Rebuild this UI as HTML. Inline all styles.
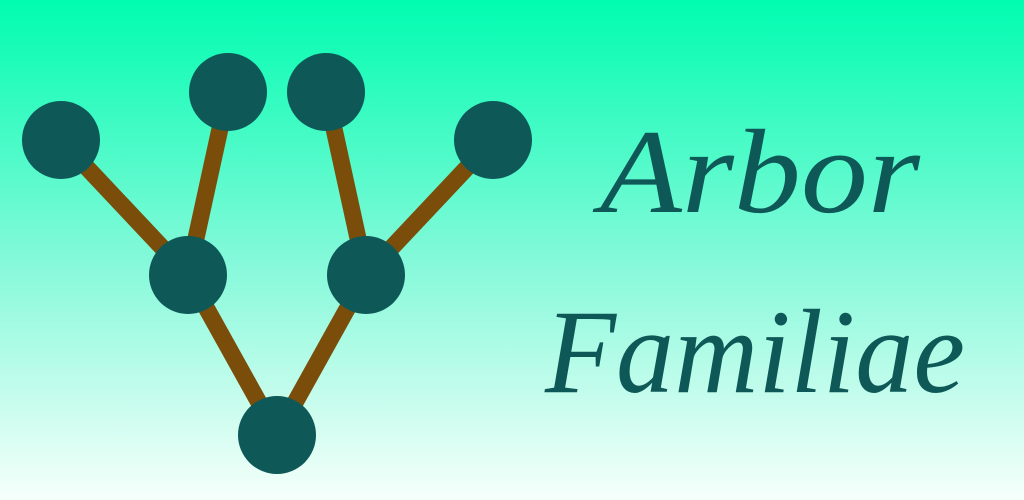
<!DOCTYPE html>
<html><head><meta charset="utf-8"><style>
html,body{margin:0;padding:0;width:1024px;height:500px;overflow:hidden}
svg{display:block}
</style></head><body>
<svg width="1024" height="500" viewBox="0 0 1024 500">
<defs>
<linearGradient id="bg" x1="0" y1="0" x2="0" y2="1">
<stop offset="0" stop-color="#00fdb0"/>
<stop offset="0.5" stop-color="#7ff9d8"/>
<stop offset="1" stop-color="#f6fffb"/>
</linearGradient>
</defs>
<rect width="1024" height="500" fill="url(#bg)"/>
<g stroke="#7a4e0a" stroke-width="17">
<line x1="61" y1="140" x2="188" y2="275"/>
<line x1="228" y1="92" x2="188" y2="275"/>
<line x1="326" y1="92" x2="366" y2="275"/>
<line x1="493" y1="140" x2="366" y2="275"/>
<line x1="188" y1="275" x2="277" y2="435"/>
<line x1="366" y1="275" x2="277" y2="435"/>
</g>
<g fill="#0e5858">
<circle cx="61" cy="140" r="39"/>
<circle cx="228" cy="92" r="39"/>
<circle cx="326" cy="92" r="39"/>
<circle cx="493" cy="140" r="39"/>
<circle cx="188" cy="275" r="39"/>
<circle cx="366" cy="275" r="39"/>
<circle cx="277" cy="435" r="39"/>
</g>
<g fill="#0e5858" font-family="'Liberation Serif', serif" font-style="italic">
<text x="600" y="212" font-size="120" textLength="320" lengthAdjust="spacingAndGlyphs">Arbor</text>
<text x="545" y="392" font-size="120" textLength="420" lengthAdjust="spacingAndGlyphs">Familiae</text>
</g>
</svg>
</body></html>
